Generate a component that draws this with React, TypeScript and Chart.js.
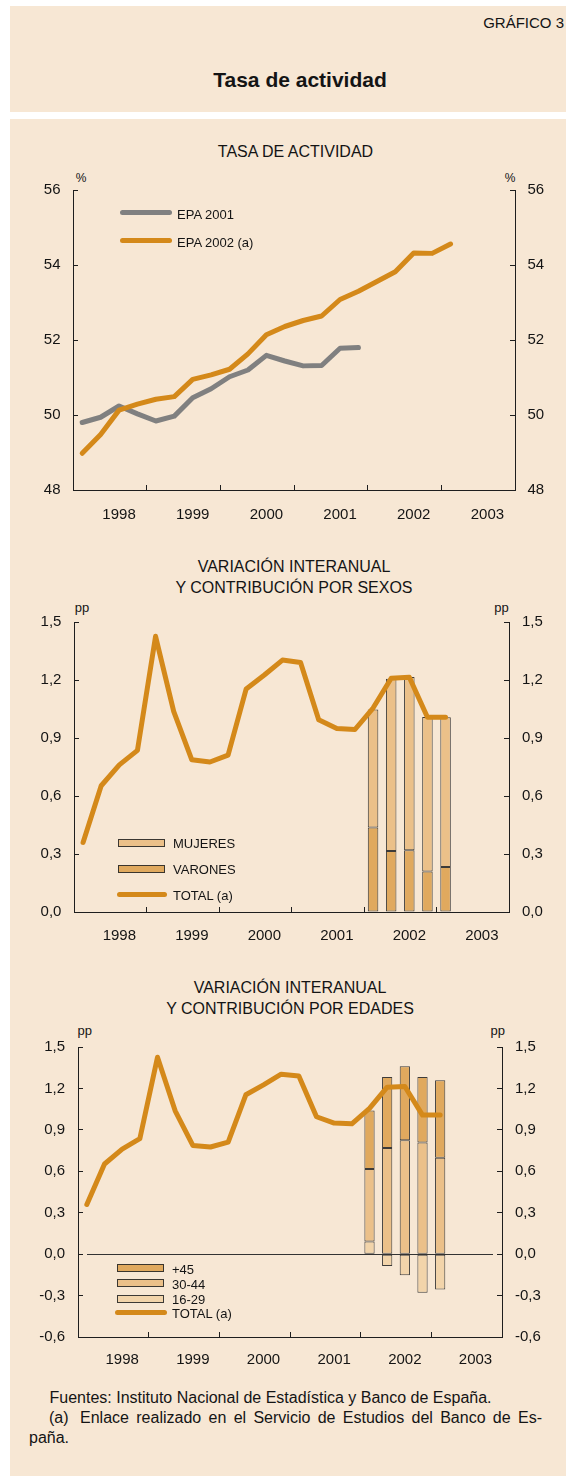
import React, { useEffect, useRef } from 'react';
import { Chart, registerables } from 'chart.js';

Chart.register(...registerables);

const FONT = '"Liberation Sans", Arial, Helvetica, sans-serif';
const BG = '#F7E7D4';
const ORANGE = '#D4891A';
const GRAY = '#808080';
const C_DARK = '#E0A95E';
const C_MID = '#EBC089';
const C_LIGHT = '#F2D4AA';
const EDGE = 'rgba(40,40,40,0.9)';
const AXIS = '#1e1e1e';
const TEXT = '#141414';

// ---------- data ----------
const years = ['1998', '1999', '2000', '2001', '2002', '2003'];
const quarterNames = ['I', 'II', 'III', 'IV'];
const quarters = years.flatMap((y) => quarterNames.map((q) => `${y} ${q}`));

// Chart 1: tasa de actividad (%), from 1998 I
const epa2001 = [49.8, 49.94, 50.24, 50.03, 49.84, 49.97, 50.46, 50.7, 51.02, 51.2, 51.59, 51.44, 51.31, 51.32, 51.78, 51.8];
const epa2002 = [48.98, 49.48, 50.13, 50.29, 50.42, 50.49, 50.95, 51.07, 51.22, 51.63, 52.14, 52.36, 52.52, 52.64, 53.08, 53.3, 53.56, 53.82, 54.32, 54.31, 54.56];

// Charts 2 and 3: variación interanual (pp), from 1998 I
const total = [0.36, 0.653, 0.761, 0.836, 1.426, 1.038, 0.787, 0.776, 0.811, 1.154, 1.226, 1.303, 1.29, 0.995, 0.949, 0.944, 1.055, 1.209, 1.214, 1.007, 1.007];

// Contributions, from 2002 I
const barsStart = '2002 I';
const varones = [0.437, 0.316, 0.32, 0.209, 0.233];
const mujeres = [0.611, 0.891, 0.895, 0.799, 0.774];
const age1629 = [0.091, -0.085, -0.152, -0.28, -0.256];
const age3044 = [0.525, 0.768, 0.824, 0.809, 0.698];
const age45 = [0.424, 0.515, 0.537, 0.474, 0.561];

const ticks1 = [48, 50, 52, 54, 56];
const ticks2 = [0, 0.3, 0.6, 0.9, 1.2, 1.5];
const ticks3 = [-0.6, -0.3, 0, 0.3, 0.6, 0.9, 1.2, 1.5];

// ---------- helpers ----------
const pad = (arr: number[], startLabel: string) => {
  const start = quarters.indexOf(startLabel);
  return quarters.map((_, i) => (i >= start && i - start < arr.length ? arr[i - start] : null));
};

const fmtInt = (v: number) => String(v);
const fmtDec = (v: number) => (Math.abs(v) < 1e-9 ? 0 : v).toFixed(1).replace('.', ',');

const lineDs = (label: string, data: (number | null)[], color: string, order: number) => ({
  type: 'line',
  label,
  data,
  stack: 'line-' + label,
  borderColor: color,
  backgroundColor: color,
  borderWidth: 5,
  pointRadius: 0,
  tension: 0,
  borderCapStyle: 'round',
  borderJoinStyle: 'round',
  fill: false,
  order,
});

const barDs = (label: string, data: (number | null)[], color: string) => ({
  type: 'bar',
  label,
  data,
  stack: 'bars',
  backgroundColor: color,
  borderColor: EDGE,
  borderWidth: 1,
  borderSkipped: false,
  barPercentage: 0.58,
  categoryPercentage: 1,
  order: 1,
});

type BuildP = {
  datasets: any[];
  yTicks: number[];
  yFmt: (v: number) => string;
  yW: number;
  y2W: number;
  xH: number;
  padTop: number;
  xPad: number;
  yPad: number;
  y2Pad: number;
  plugins?: any[];
};

function buildConfig(p: BuildP): any {
  const tickFont = { family: FONT, size: 15 };
  const yAxis = (position: 'left' | 'right', width: number, padding: number) => ({
    type: 'linear',
    position,
    min: p.yTicks[0],
    max: p.yTicks[p.yTicks.length - 1],
    stacked: true,
    afterBuildTicks: (s: any) => {
      s.ticks = p.yTicks.map((v) => ({ value: v }));
    },
    afterFit: (s: any) => {
      s.width = width;
    },
    grid: { display: true, drawOnChartArea: false, drawTicks: true, tickLength: -5, tickColor: AXIS, tickWidth: 1, color: 'rgba(0,0,0,0)' },
    border: { display: true, color: AXIS, width: 1 },
    ticks: { padding, color: TEXT, font: tickFont, callback: (v: any) => p.yFmt(Number(v)) },
  });
  return {
    type: 'bar',
    data: { labels: quarters, datasets: p.datasets },
    options: {
      animation: false,
      responsive: false,
      maintainAspectRatio: false,
      events: [],
      layout: { padding: { top: p.padTop, left: 0, right: 0, bottom: 0 } },
      plugins: { legend: { display: false }, tooltip: { enabled: false }, title: { display: false } },
      scales: {
        x: {
          type: 'category',
          offset: true,
          stacked: true,
          afterFit: (s: any) => {
            s.height = p.xH;
          },
          grid: {
            display: true,
            offset: true,
            drawOnChartArea: false,
            drawTicks: true,
            tickLength: -5,
            tickWidth: 1,
            color: 'rgba(0,0,0,0)',
            tickColor: (ctx: any) =>
              typeof ctx.index === 'number' && ctx.index > 0 && ctx.index % 4 === 0 ? AXIS : 'rgba(0,0,0,0)',
          },
          border: { display: true, color: AXIS, width: 1 },
          ticks: {
            autoSkip: false,
            maxRotation: 0,
            minRotation: 0,
            padding: p.xPad,
            color: TEXT,
            font: tickFont,
            callback: (_v: any, i: number) => (i % 4 === 2 ? years[Math.floor(i / 4)] : ''),
          },
        },
        y: yAxis('left', p.yW, p.yPad),
        y2: yAxis('right', p.y2W, p.y2Pad),
      },
    },
    plugins: p.plugins || [],
  };
}

const zeroLine = {
  id: 'zeroLine',
  afterDatasetsDraw(chart: any) {
    const y = Math.round(chart.scales.y.getPixelForValue(0)) + 0.5;
    const { left, right } = chart.chartArea;
    const ctx = chart.ctx;
    ctx.save();
    ctx.strokeStyle = '#333';
    ctx.lineWidth = 1;
    ctx.beginPath();
    ctx.moveTo(left + 9, y);
    ctx.lineTo(right - 9, y);
    ctx.stroke();
    ctx.restore();
  },
};

function ChartBox({ top, height, make }: { top: number; height: number; make: () => any }) {
  const ref = useRef<HTMLCanvasElement>(null);
  useEffect(() => {
    if (!ref.current) return;
    const c = new Chart(ref.current, make());
    return () => c.destroy();
  }, []);
  return (
    <canvas
      ref={ref}
      width={566}
      height={height}
      style={{ position: 'absolute', left: 0, top, width: 566, height, display: 'block' }}
    />
  );
}

function T({ x, y, size = 13, anchor = 'center', bold = false, children }: any) {
  const tx = anchor === 'left' ? '0' : anchor === 'right' ? '-100%' : '-50%';
  return (
    <div
      style={{
        position: 'absolute',
        left: x,
        top: y,
        transform: `translate(${tx}, -50%)`,
        fontSize: size,
        lineHeight: 1,
        whiteSpace: 'nowrap',
        fontFamily: FONT,
        color: TEXT,
        fontWeight: bold ? 'bold' : 'normal',
      }}
    >
      {children}
    </div>
  );
}

const BarSw = ({ x, y, color }: any) => (
  <div
    style={{
      position: 'absolute',
      left: x,
      top: y - 4,
      width: 47,
      height: 8,
      background: color,
      border: `1px solid ${EDGE}`,
      boxSizing: 'border-box',
    }}
  />
);
const LineSw = ({ x, y, w = 52, color }: any) => (
  <div style={{ position: 'absolute', left: x, top: y - 2.5, width: w, height: 5, background: color, borderRadius: 2.5 }} />
);

export default function App() {
  const make1 = () =>
    buildConfig({
      datasets: [lineDs('EPA 2001', pad(epa2001, '1998 I'), GRAY, 1), lineDs('EPA 2002 (a)', pad(epa2002, '1998 I'), ORANGE, 0)],
      yTicks: ticks1,
      yFmt: fmtInt,
      yW: 73,
      y2W: 51,
      xH: 50,
      padTop: 30,
      xPad: 21,
      yPad: 17.5,
      y2Pad: 17.5,
    });
  const make2 = () =>
    buildConfig({
      datasets: [
        lineDs('TOTAL (a)', pad(total, '1998 I'), ORANGE, 0),
        barDs('VARONES', pad(varones, barsStart), C_DARK),
        barDs('MUJERES', pad(mujeres, barsStart), C_MID),
      ],
      yTicks: ticks2,
      yFmt: fmtDec,
      yW: 74,
      y2W: 57,
      xH: 38,
      padTop: 25,
      xPad: 20,
      yPad: 17.6,
      y2Pad: 18,
    });
  const make3 = () =>
    buildConfig({
      datasets: [
        lineDs('TOTAL (a)', pad(total, '1998 I'), ORANGE, 0),
        barDs('16-29', pad(age1629, barsStart), C_LIGHT),
        barDs('30-44', pad(age3044, barsStart), C_MID),
        barDs('+45', pad(age45, barsStart), C_DARK),
      ],
      yTicks: ticks3,
      yFmt: fmtDec,
      yW: 78,
      y2W: 64,
      xH: 38,
      padTop: 26,
      xPad: 19,
      yPad: 18,
      y2Pad: 18,
      plugins: [zeroLine],
    });

  return (
    <div
      style={{
        position: 'absolute',
        left: 0,
        top: 0,
        width: 566,
        height: 1481,
        background: '#fff',
        overflow: 'hidden',
        fontFamily: FONT,
        color: TEXT,
      }}
    >
      <div style={{ position: 'absolute', left: 10, top: 6, width: 556, height: 106, background: BG }} />
      <div style={{ position: 'absolute', left: 10, top: 119, width: 556, height: 1357, background: BG }} />

      <T x={564} y={22} size={15} anchor="right">GRÁFICO 3</T>
      <T x={300} y={79} size={21} bold>Tasa de actividad</T>

      {/* Chart 1 */}
      <T x={295.5} y={152} size={16}>TASA DE ACTIVIDAD</T>
      <T x={81} y={178} size={12}>%</T>
      <T x={510} y={178} size={12}>%</T>
      <ChartBox top={160} height={380} make={make1} />
      <LineSw x={120} y={212.5} color={GRAY} />
      <T x={177} y={213.5} anchor="left">EPA 2001</T>
      <LineSw x={120} y={240.7} color={ORANGE} />
      <T x={177} y={242} anchor="left">EPA 2002 (a)</T>

      {/* Chart 2 */}
      <T x={294} y={566.7} size={16}>VARIACIÓN INTERANUAL</T>
      <T x={294} y={587.7} size={16}>Y CONTRIBUCIÓN POR SEXOS</T>
      <T x={82} y={606.7} size={13}>pp</T>
      <T x={501.4} y={606.7} size={13}>pp</T>
      <ChartBox top={595} height={355} make={make2} />
      <BarSw x={118} y={842.5} color={C_MID} />
      <T x={173} y={843} anchor="left">MUJERES</T>
      <BarSw x={118} y={868.7} color={C_DARK} />
      <T x={173} y={869} anchor="left">VARONES</T>
      <LineSw x={117} y={894} w={50} color={ORANGE} />
      <T x={173} y={895} anchor="left">TOTAL (a)</T>

      {/* Chart 3 */}
      <T x={290} y={988.3} size={16}>VARIACIÓN INTERANUAL</T>
      <T x={290} y={1009.3} size={16}>Y CONTRIBUCIÓN POR EDADES</T>
      <T x={84.8} y={1030} size={13}>pp</T>
      <T x={497.8} y={1030} size={13}>pp</T>
      <ChartBox top={1020} height={355} make={make3} />
      <BarSw x={117} y={1268} color={C_DARK} />
      <T x={172} y={1268.5} anchor="left">+45</T>
      <BarSw x={117} y={1283.3} color={C_MID} />
      <T x={172} y={1283.8} anchor="left">30-44</T>
      <BarSw x={117} y={1298.7} color={C_LIGHT} />
      <T x={172} y={1299.2} anchor="left">16-29</T>
      <LineSw x={115} y={1312.7} color={ORANGE} />
      <T x={172} y={1313.2} anchor="left">TOTAL (a)</T>

      {/* Footnotes */}
      <T x={49.5} y={1398.3} size={16} anchor="left">Fuentes: Instituto Nacional de Estadística y Banco de España.</T>
      <T x={49} y={1418.3} size={16} anchor="left">(a)</T>
      <div
        style={{
          position: 'absolute',
          left: 80,
          top: 1410.3,
          width: 462,
          height: 16,
          fontSize: 16,
          lineHeight: '16px',
          fontFamily: FONT,
          color: TEXT,
          textAlign: 'justify',
          textAlignLast: 'justify',
          whiteSpace: 'nowrap',
        } as any}
      >
        Enlace realizado en el Servicio de Estudios del Banco de Es-
      </div>
      <T x={29} y={1438.3} size={16} anchor="left">paña.</T>
    </div>
  );
}
